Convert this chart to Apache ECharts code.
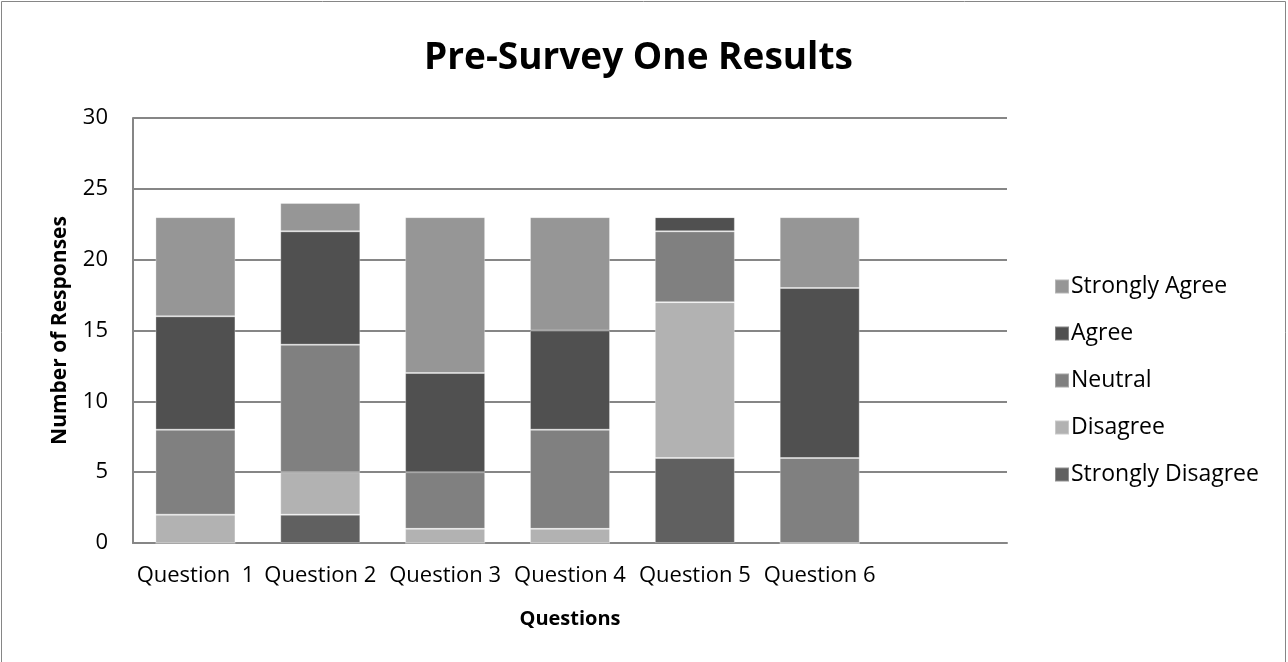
<!DOCTYPE html>
<html>
<head>
<meta charset="utf-8">
<script src="https://cdn.jsdelivr.net/npm/echarts@6/dist/echarts.min.js"></script>
<style>
  html, body { margin: 0; padding: 0; background: #fff; }
  #chart { width: 1288px; height: 662px; }
</style>
</head>
<body>
<div id="chart"></div>
<script>
// categories (last one is an empty slot, like the original sheet)
var questions = ['Question  1', 'Question 2', 'Question 3', 'Question 4', 'Question 5', 'Question 6', ''];

var stronglyDisagree = [0, 2, 0, 0, 6, 0];
var disagree         = [2, 3, 1, 1, 11, 0];
var neutral          = [6, 9, 4, 7, 5, 6];
var agree            = [8, 8, 7, 7, 1, 12];
var stronglyAgree    = [7, 2, 11, 8, 0, 5];

var yTicks = [0, 5, 10, 15, 20, 25, 30];

var font = '"Open Sans", "Noto Sans", sans-serif';
var chart = echarts.init(document.getElementById('chart'));

function mk(name, data, color) {
  return {
    name: name,
    type: 'bar',
    stack: 'total',
    barWidth: 80,
    data: data,
    itemStyle: { color: color, borderColor: 'rgba(255,255,255,0.3)', borderWidth: 1 }
  };
}

chart.setOption({
  animation: false,
  textStyle: { fontFamily: font },
  title: {
    text: 'Pre-Survey One Results',
    left: 419,
    top: 35,
    textStyle: { fontSize: 37, fontWeight: 'bold', color: '#000', fontFamily: font }
  },
  graphic: [{
    type: 'rect',
    shape: { x: 1.5, y: 1.5, width: 1284, height: 670 },
    style: { fill: 'none', stroke: '#868686', lineWidth: 1 },
    silent: true
  }],
  legend: {
    orient: 'vertical',
    left: 1049,
    top: 270,
    itemWidth: 14,
    itemHeight: 14,
    itemGap: 24,
    icon: 'rect',
    textStyle: { fontSize: 23, color: '#000', fontFamily: font, padding: [0, 0, 0, -3] },
    data: ['Strongly Agree', 'Agree', 'Neutral', 'Disagree', 'Strongly Disagree']
  },
  grid: { left: 133, top: 118, width: 874, height: 425 },
  xAxis: {
    type: 'category',
    data: questions,
    name: 'Questions',
    nameLocation: 'middle',
    nameGap: 66,
    nameTextStyle: { fontSize: 20, fontWeight: 'bold', color: '#000' },
    axisLine: { lineStyle: { color: '#868686', width: 2 } },
    axisTick: { show: false },
    axisLabel: { fontSize: 22, color: '#000', margin: 22, interval: 0 }
  },
  yAxis: {
    type: 'value',
    min: yTicks[0],
    max: yTicks[yTicks.length - 1],
    interval: 5,
    name: 'Number of Responses',
    nameLocation: 'middle',
    nameGap: 62,
    nameTextStyle: { fontSize: 21, fontWeight: 'bold', color: '#000' },
    axisLine: { show: true, lineStyle: { color: '#868686', width: 2 } },
    axisTick: { show: false },
    splitLine: { lineStyle: { color: '#868686', width: 2 } },
    axisLabel: { fontSize: 22, color: '#000', margin: 25 }
  },
  series: [
    mk('Strongly Disagree', stronglyDisagree, '#606060'),
    mk('Disagree', disagree, '#b2b2b2'),
    mk('Neutral', neutral, '#808080'),
    mk('Agree', agree, '#505050'),
    mk('Strongly Agree', stronglyAgree, '#969696')
  ]
});
</script>
</body>
</html>
